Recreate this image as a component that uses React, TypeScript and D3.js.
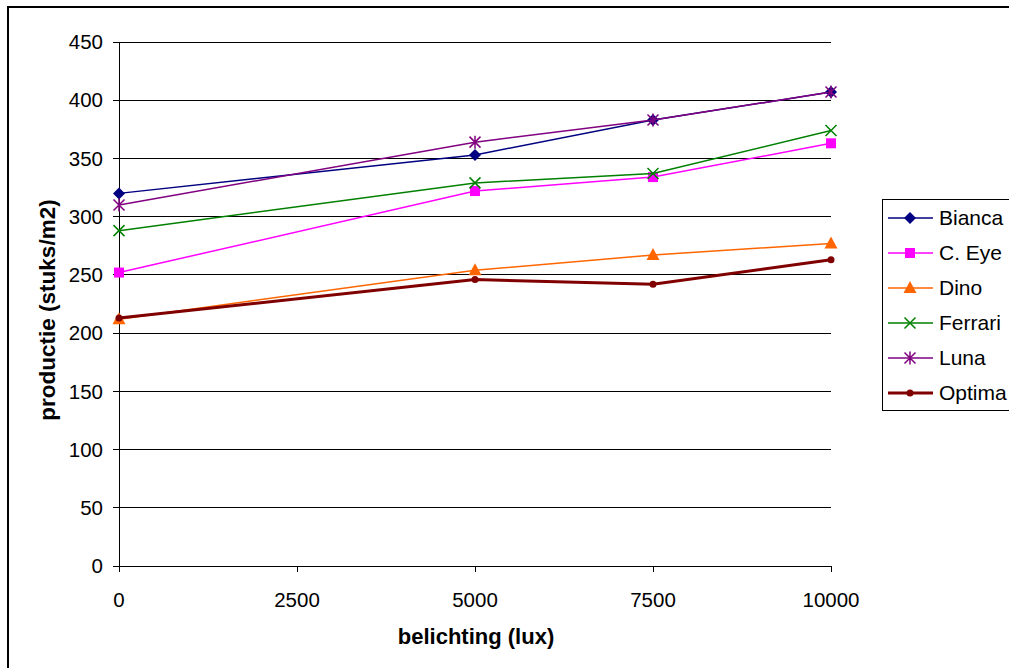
import React from "react";
import * as d3 from "d3";

const xValues = [0, 5000, 7500, 10000];
const xTicks = [0, 2500, 5000, 7500, 10000];
const yTicks = [0, 50, 100, 150, 200, 250, 300, 350, 400, 450];

const seriesNames = ["Bianca", "C. Eye", "Dino", "Ferrari", "Luna", "Optima"];
const bianca = [320, 353, 383, 407];
const cEye = [252, 322, 334, 363];
const dino = [212, 254, 267, 277];
const ferrari = [288, 329, 337, 374];
const luna = [310, 364, 383, 407];
const optima = [213, 246, 242, 263];

const seriesValues = [bianca, cEye, dino, ferrari, luna, optima];
const colors = ["#000080", "#FF00FF", "#FF6600", "#008000", "#800080", "#800000"];
const markers = ["diamond", "square", "triangle", "x", "star", "circle"];
const widths = [1.5, 1.5, 1.5, 1.5, 1.5, 3];

const W = 1009;
const H = 668;
const plot = { left: 119, right: 831, top: 42, bottom: 566 };

const xScale = d3.scaleLinear().domain([0, 10000]).range([plot.left, plot.right]);
const yScale = d3.scaleLinear().domain([0, 450]).range([plot.bottom, plot.top]);

function Marker({ type, x, y, color }: { type: string; x: number; y: number; color: string }) {
  switch (type) {
    case "diamond":
      return <path d={`M${x},${y - 6}L${x + 6},${y}L${x},${y + 6}L${x - 6},${y}Z`} fill={color} />;
    case "square":
      return <rect x={x - 5} y={y - 5} width={10} height={10} fill={color} />;
    case "triangle":
      return <path d={`M${x},${y - 7}L${x + 6.5},${y + 5}L${x - 6.5},${y + 5}Z`} fill={color} />;
    case "x":
      return (
        <path d={`M${x - 5.5},${y - 5.5}L${x + 5.5},${y + 5.5}M${x - 5.5},${y + 5.5}L${x + 5.5},${y - 5.5}`} stroke={color} strokeWidth={1.5} fill="none" />
      );
    case "star":
      return (
        <path
          d={`M${x - 5.5},${y - 5.5}L${x + 5.5},${y + 5.5}M${x - 5.5},${y + 5.5}L${x + 5.5},${y - 5.5}M${x},${y - 6.5}L${x},${y + 6.5}`}
          stroke={color}
          strokeWidth={1.5}
          fill="none"
        />
      );
    case "circle":
      return <circle cx={x} cy={y} r={3.5} fill={color} />;
    default:
      return null;
  }
}

export default function App() {
  const line = d3
    .line<number>()
    .x((_, i) => xScale(xValues[i]))
    .y((d) => yScale(d));

  const legendX = 882;
  const legendTop = 199;
  const legendSpacing = 35;
  const font = "Arial, 'Liberation Sans', sans-serif";

  return (
    <svg width={W} height={H} style={{ position: "absolute", left: 0, top: 0, background: "#fff" }} fontFamily={font}>
      <rect x={0} y={0} width={W} height={H} fill="#fff" />
      <rect x={8} y={7} width={W + 20} height={H + 20} fill="none" stroke="#000" strokeWidth={2} />

      {/* grid lines */}
      {yTicks.filter((t) => t > 0).map((t) => (
        <line key={t} x1={plot.left} x2={plot.right} y1={yScale(t)} y2={yScale(t)} stroke="#000" strokeWidth={1} shapeRendering="crispEdges" />
      ))}

      {/* y axis */}
      <line x1={plot.left} x2={plot.left} y1={plot.top} y2={plot.bottom} stroke="#000" strokeWidth={1} shapeRendering="crispEdges" />
      {yTicks.map((t) => (
        <g key={t}>
          <line x1={plot.left - 6} x2={plot.left} y1={yScale(t)} y2={yScale(t)} stroke="#000" shapeRendering="crispEdges" />
          <text x={103} y={yScale(t)} dy="0.35em" textAnchor="end" fontSize={20.5} fill="#000">
            {t}
          </text>
        </g>
      ))}

      {/* x axis */}
      <line x1={plot.left} x2={plot.right} y1={plot.bottom} y2={plot.bottom} stroke="#000" strokeWidth={1} shapeRendering="crispEdges" />
      {xTicks.map((t) => (
        <g key={t}>
          <line x1={xScale(t)} x2={xScale(t)} y1={plot.bottom} y2={plot.bottom + 6} stroke="#000" shapeRendering="crispEdges" />
          <text x={xScale(t)} y={600} dy="0.35em" textAnchor="middle" fontSize={20.5} fill="#000">
            {t}
          </text>
        </g>
      ))}

      {/* axis titles */}
      <text x={476} y={636} dy="0.35em" textAnchor="middle" fontSize={22} fontWeight="bold" fill="#000">
        belichting (lux)
      </text>
      <text transform={`translate(47,310) rotate(-90)`} dy="0.35em" textAnchor="middle" fontSize={22.5} fontWeight="bold" fill="#000">
        productie (stuks/m2)
      </text>

      {/* series */}
      {seriesValues.map((vals, si) => (
        <g key={seriesNames[si]}>
          <path d={line(vals) || ""} fill="none" stroke={colors[si]} strokeWidth={widths[si]} />
          {vals.map((v, i) => (
            <Marker key={i} type={markers[si]} x={xScale(xValues[i])} y={yScale(v)} color={colors[si]} />
          ))}
        </g>
      ))}

      {/* legend */}
      <rect x={legendX} y={legendTop} width={W} height={211} fill="#fff" stroke="#000" strokeWidth={1} shapeRendering="crispEdges" />
      {seriesNames.map((name, si) => {
        const cy = legendTop + 19 + si * legendSpacing;
        return (
          <g key={name}>
            <line x1={888} x2={933} y1={cy} y2={cy} stroke={colors[si]} strokeWidth={widths[si]} />
            <Marker type={markers[si]} x={910} y={cy} color={colors[si]} />
            <text x={939} y={cy} dy="0.35em" fontSize={21} fill="#000">
              {name}
            </text>
          </g>
        );
      })}
    </svg>
  );
}
